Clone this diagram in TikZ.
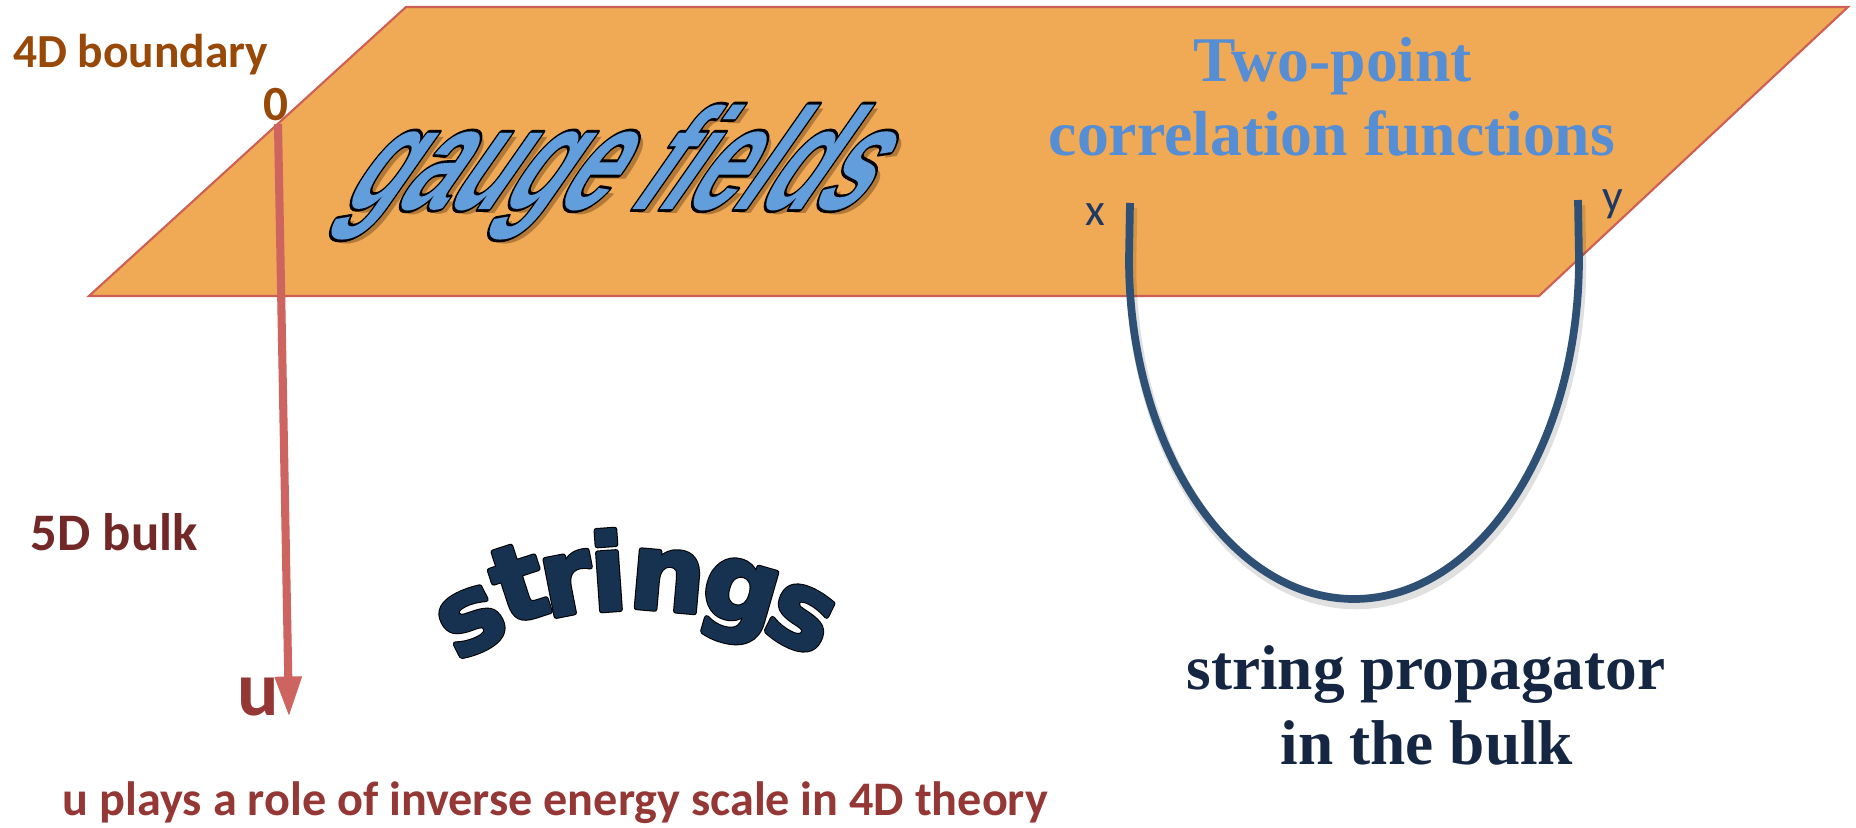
\documentclass[tikz,border=0pt]{standalone}
\usepackage{fontspec}
\usetikzlibrary{arrows.meta}
\setmainfont{Liberation Serif}
\newfontfamily\calib{Carlito}
\newfontfamily\arialf{Liberation Sans}
\newfontfamily\dejab{DejaVu Sans}
\definecolor{planefill}{RGB}{240,169,84}
\definecolor{planeborder}{RGB}{205,95,85}
\definecolor{axiscol}{RGB}{205,100,95}
\definecolor{brownlbl}{RGB}{152,72,7}
\definecolor{bulkred}{RGB}{115,40,40}
\definecolor{ured}{RGB}{149,55,53}
\definecolor{tpblue}{RGB}{85,142,213}
\definecolor{gaugeblue}{RGB}{98,158,220}
\definecolor{gshadow}{RGB}{120,75,30}
\definecolor{strnavy}{RGB}{22,50,80}
\definecolor{curvecol}{RGB}{47,80,117}
\definecolor{propcol}{RGB}{20,38,65}
\definecolor{xycol}{RGB}{31,56,100}
% outlined text: #1 outer stroke width, #2 inner stroke width (bp), #3 fill colour, #4 text
\newcommand\outlinedtext[4]{\leavevmode\rlap{\color{black}\special{pdf:literal direct 1 j 2 Tr #1 w}#4}{\color{#3}\special{pdf:literal direct 1 j 2 Tr #2 w}#4}\special{pdf:literal direct 0 Tr 0.4 w}}
\tikzset{
  lbl/.style={inner sep=0pt, outer sep=0pt},
  planestyle/.style={draw=planeborder, fill=planefill, line width=0.6pt},
  axisline/.style={draw=axiscol, line width=2.3pt, -{Triangle[width=7.2pt,length=11.5pt]}},
  curvestyle/.style={draw=curvecol, line width=2.2pt},
  curveshadow/.style={draw=black, opacity=0.12, line width=3pt},
  gaugefont/.style={font=\arialf\bfseries\fontsize{25.3}{28}\selectfont},
  strletter/.style={lbl, anchor=base, font=\dejab\bfseries\fontsize{30}{32}\selectfont},
}
\begin{document}
\begin{tikzpicture}[x=0.01cm,y=-0.01cm]
\useasboundingbox (0,0) rectangle (1856,828);
\fill[white] (0,0) rectangle (1856,828);
% boundary plane
\draw[planestyle] (89,296) -- (406,7) -- (1848,7) -- (1539,296) -- cycle;
% labels on the left
\node[lbl, anchor=base west, text=brownlbl, font=\calib\bfseries\fontsize{13.5}{16}\selectfont] (bnd) at (13,68) {4D boundary};
\node[lbl, anchor=base, text=brownlbl, font=\calib\bfseries\fontsize{14}{16}\selectfont] (zero) at (276,121) {0};
\coordinate (top) at (278,124);
\coordinate (bot) at (289,717);
\draw[axisline] (top) -- (bot);
\node[lbl, anchor=base east, text=ured, font=\calib\bfseries\fontsize{22}{24}\selectfont] (u) at (279,716) {u};
\node[lbl, anchor=base west, text=bulkred, font=\calib\bfseries\fontsize{15}{18}\selectfont] (bulk) at (31,551) {5D bulk};
\node[lbl, anchor=base west, text=ured, font=\calib\bfseries\fontsize{13.7}{16}\selectfont] (cap) at (63,816) {u plays a role of inverse energy scale in 4D theory};
% gauge fields
\node[lbl, gaugefont, anchor=base, text=gshadow, opacity=0.5, xslant=0.7, yscale=1.62] (gsh) at (602,214) {gauge fields};
\node[lbl, gaugefont, anchor=base, xslant=0.7, yscale=1.62] (gauge) at (597,209)
  {\outlinedtext{1.0}{0}{gaugeblue}{gauge fields}};
% two-point text
\node[lbl, anchor=base, text=tpblue, font=\bfseries\fontsize{18.1}{20}\selectfont] (tp1) at (1333,82) {Two-point};
\node[lbl, anchor=base, text=tpblue, font=\bfseries\fontsize{18.1}{20}\selectfont] (tp2) at (1332,156) {correlation functions};
% string propagator curve
\coordinate (xpt) at (1130,203);
\coordinate (ypt) at (1578,200);
\draw[curveshadow] ([shift={(2,5)}]xpt) -- (1131,264) .. controls (1131,452) and (1232,604) .. (1356,604) .. controls (1480,604) and (1581,452) .. (1581,264) -- ([shift={(2,5)}]ypt);
\draw[curvestyle] (xpt) -- (1129,259) .. controls (1129,447) and (1230,599) .. (1354,599) .. controls (1478,599) and (1579,447) .. (1579,259) -- (ypt);
\node[lbl, anchor=base, text=xycol, font=\calib\fontsize{13}{15}\selectfont] (xl) at (1095,226) {x};
\node[lbl, anchor=base, text=xycol, font=\calib\fontsize{13}{15}\selectfont] (yl) at (1613,212) {y};
\node[lbl, anchor=base, text=propcol, font=\bfseries\fontsize{18}{20}\selectfont] (pr1) at (1426,690) {string propagator};
\node[lbl, anchor=base, text=propcol, font=\bfseries\fontsize{18}{20}\selectfont] (pr2) at (1427,765) {in the bulk};
% strings (arched)
\foreach \ch/\px/\py/\ang [count=\k] in {s/485/647/27, t/530/618/18, r/573/613/11, i/611/610/4, n/665/610/-5, g/733/620/-16, s/788/644/-26}{
  \node[strletter, rotate=\ang] (str\k) at (\px,\py)
    {\outlinedtext{1.5}{0.9}{strnavy}{\ch}};
}
\end{tikzpicture}
\end{document}
